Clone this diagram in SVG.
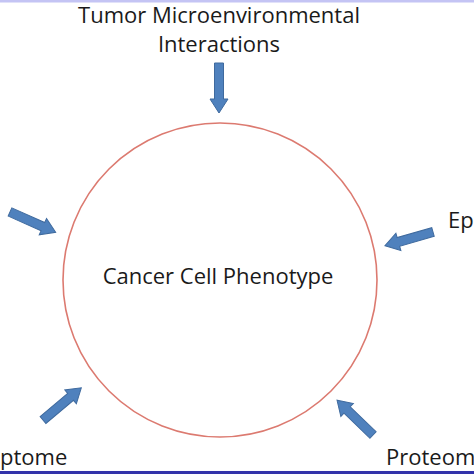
<svg xmlns="http://www.w3.org/2000/svg" xmlns:xlink="http://www.w3.org/1999/xlink" width="474" height="474" viewBox="0 0 474 474">
<style>
.lbl{font-family:"Open Sans","Liberation Sans",sans-serif;font-size:22px;fill:#1a1a1a}
.arr{fill:#4f81bd;stroke:#3f6a9e;stroke-width:1}
</style>
<defs>
<path id="arrow" class="arr" d="M0,-4.5 H36 V-9 L50,0 L36,9 V4.5 H0 Z"/>
</defs>
<rect width="474" height="474" fill="#ffffff"/>
<rect x="0" y="0" width="474" height="2.5" fill="#c4c4f4"/>
<rect x="0" y="471" width="474" height="3" fill="#3333aa"/>
<g id="cell">
<circle cx="220" cy="280" r="157" fill="none" stroke="#dc7a70" stroke-width="1.6"/>
<text class="lbl" x="218" y="284" text-anchor="middle">Cancer Cell Phenotype</text>
</g>
<g id="tumor">
<text class="lbl" x="219" y="23" text-anchor="middle">Tumor Microenvironmental</text>
<text class="lbl" x="219" y="52" text-anchor="middle">Interactions</text>
</g>
<g id="epigenome"><text class="lbl" x="448" y="228">Ep</text></g>
<g id="transcriptome"><text class="lbl" x="0" y="465">ptome</text></g>
<g id="proteome"><text class="lbl" x="386" y="465" font-size="21">Proteom</text></g>
<g id="connectors">
<use xlink:href="#arrow" transform="translate(219,63) rotate(90)"/>
<use xlink:href="#arrow" transform="translate(10,212) rotate(24)"/>
<use xlink:href="#arrow" transform="translate(433,232) rotate(164)"/>
<use xlink:href="#arrow" transform="translate(43,420) rotate(-40)"/>
<use xlink:href="#arrow" transform="translate(373,435) rotate(-136)"/>
</g>
</svg>
